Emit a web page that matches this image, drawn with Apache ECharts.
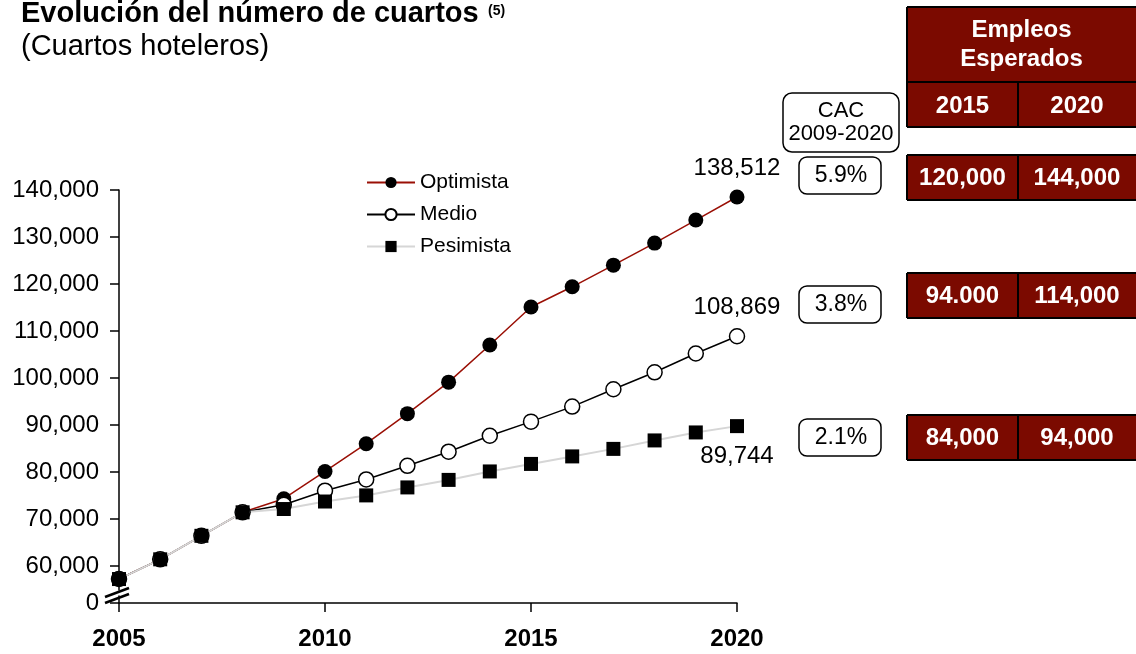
<!DOCTYPE html>
<html>
<head>
<meta charset="utf-8">
<script src="https://cdn.jsdelivr.net/npm/echarts@6/dist/echarts.min.js"></script>
<style>
  html, body { margin: 0; padding: 0; background: #fff; }
  #chart { width: 1136px; height: 654px; }
</style>
</head>
<body>
<div id="chart"></div>
<script>
// datos
const years = [2005, 2006, 2007, 2008, 2009, 2010, 2011, 2012, 2013, 2014, 2015, 2016, 2017, 2018, 2019, 2020];
const optimista = [57200, 61400, 66400, 71400, 74300, 80100, 86000, 92400, 99100, 107000, 115100, 119400, 124000, 128700, 133600, 138512];
const medio = [57200, 61400, 66400, 71400, 73000, 76000, 78400, 81300, 84300, 87700, 90700, 93900, 97600, 101200, 105200, 108869];
const pesimista = [57200, 61400, 66400, 71400, 72100, 73700, 75000, 76700, 78300, 80100, 81700, 83300, 84900, 86700, 88400, 89744];
const yTicks = [0, 60000, 70000, 80000, 90000, 100000, 110000, 120000, 130000, 140000];

const seriesNames = ['Optimista', 'Medio', 'Pesimista'];
const cac = ['5.9%', '3.8%', '2.1%'];
const empleos2015 = ['120,000', '94.000', '84,000'];
const empleos2020 = ['144,000', '114,000', '94,000'];
const tableHeader = 'Empleos\nEsperados';
const tableYears = ['2015', '2020'];
const cacHeader = 'CAC\n2009-2020';
const titulo = 'Evolución del número de cuartos';
const nota = '(5)';
const subtitulo = '(Cuartos hoteleros)';

const FONT = '"Liberation Sans", Arial, sans-serif';
const RED = '#7b0a00';

const chart = echarts.init(document.getElementById('chart'));

function toPairs(vals) {
  return years.map((y, i) => [y, vals[i]]);
}

function lastLabel(position, distance) {
  return {
    show: true,
    position: position,
    distance: distance,
    fontFamily: FONT,
    fontSize: 24,
    color: '#000',
    formatter: (p) => (p.dataIndex === years.length - 1 ? p.value[1].toLocaleString('en-US') : ''),
  };
}

// titulo y tabla lateral (decoracion)
const graphics = [];
graphics.push({
  type: 'text', x: 21, y: 14,
  style: { text: titulo, fill: '#000', font: 'bold 29px ' + FONT, verticalAlign: 'middle' }
});
graphics.push({
  type: 'text', x: 488, y: 11,
  style: { text: nota, fill: '#000', font: 'bold 14px ' + FONT, verticalAlign: 'middle' }
});
graphics.push({
  type: 'text', x: 21, y: 47,
  style: { text: subtitulo, fill: '#000', font: '29px ' + FONT, verticalAlign: 'middle' }
});

const rowTops = [155, 273, 415];
const boxTops = [157, 286, 419];
const tblL = 907, tblR = 1136, tblMid = 1018;

graphics.push({
  type: 'rect', shape: { x: tblL, y: 7, width: tblR - tblL, height: 120 },
  style: { fill: RED }
});
graphics.push({
  type: 'text', x: (tblL + tblR) / 2, y: 45,
  style: { text: tableHeader, fill: '#fff', font: 'bold 24px ' + FONT, align: 'center', verticalAlign: 'middle', lineHeight: 29 }
});
tableYears.forEach((t, i) => {
  graphics.push({
    type: 'text', x: i === 0 ? (tblL + tblMid) / 2 : (tblMid + tblR) / 2, y: 106,
    style: { text: t, fill: '#fff', font: 'bold 24px ' + FONT, align: 'center', verticalAlign: 'middle' }
  });
});
[7, 82, 127].forEach((y) => {
  graphics.push({ type: 'line', shape: { x1: tblL, y1: y, x2: tblR, y2: y }, style: { stroke: '#000', lineWidth: 2 } });
});
graphics.push({ type: 'line', shape: { x1: tblL, y1: 7, x2: tblL, y2: 127 }, style: { stroke: '#000', lineWidth: 2 } });
graphics.push({ type: 'line', shape: { x1: tblMid, y1: 82, x2: tblMid, y2: 127 }, style: { stroke: '#000', lineWidth: 2 } });

// caja CAC
graphics.push({
  type: 'rect', shape: { x: 783, y: 93, width: 116, height: 59, r: 9 },
  style: { fill: '#fff', stroke: '#000', lineWidth: 1.5 }
});
graphics.push({
  type: 'text', x: 841, y: 122,
  style: { text: cacHeader, fill: '#000', font: '22px ' + FONT, align: 'center', verticalAlign: 'middle', lineHeight: 23 }
});

rowTops.forEach((top, i) => {
  graphics.push({
    type: 'rect', shape: { x: tblL, y: top, width: tblR - tblL, height: 45 },
    style: { fill: RED }
  });
  [top, top + 45].forEach((y) => {
    graphics.push({ type: 'line', shape: { x1: tblL, y1: y, x2: tblR, y2: y }, style: { stroke: '#000', lineWidth: 2 } });
  });
  graphics.push({ type: 'line', shape: { x1: tblL, y1: top, x2: tblL, y2: top + 45 }, style: { stroke: '#000', lineWidth: 2 } });
  graphics.push({ type: 'line', shape: { x1: tblMid, y1: top, x2: tblMid, y2: top + 45 }, style: { stroke: '#000', lineWidth: 2 } });
  graphics.push({
    type: 'text', x: (tblL + tblMid) / 2, y: top + 23,
    style: { text: empleos2015[i], fill: '#fff', font: 'bold 24px ' + FONT, align: 'center', verticalAlign: 'middle' }
  });
  graphics.push({
    type: 'text', x: (tblMid + tblR) / 2, y: top + 23,
    style: { text: empleos2020[i], fill: '#fff', font: 'bold 24px ' + FONT, align: 'center', verticalAlign: 'middle' }
  });
  graphics.push({
    type: 'rect', shape: { x: 799, y: boxTops[i], width: 82, height: 37, r: 8 },
    style: { fill: '#fff', stroke: '#000', lineWidth: 1.5 }
  });
  graphics.push({
    type: 'text', x: 841, y: boxTops[i] + 19,
    style: { text: cac[i], fill: '#000', font: '23px ' + FONT, align: 'center', verticalAlign: 'middle' }
  });
});

const option = {
  backgroundColor: '#fff',
  animation: false,
  legend: {
    data: seriesNames,
    orient: 'vertical',
    left: 361,
    top: 167,
    itemWidth: 48,
    itemHeight: 14,
    itemGap: 11,
    textStyle: { fontFamily: FONT, fontSize: 21, color: '#000' },
  },
  grid: { left: 119, right: 399, top: 190, bottom: 51, outerBoundsMode: 'none' },
  xAxis: {
    type: 'value',
    min: 2005,
    max: 2020,
    interval: 5,
    splitLine: { show: false },
    axisLine: { lineStyle: { color: '#000', width: 1.5 } },
    axisTick: { length: 9, lineStyle: { color: '#000', width: 1.5 } },
    axisLabel: {
      fontFamily: FONT, fontSize: 24, fontWeight: 'bold', color: '#000', margin: 24,
      formatter: (v) => String(v),
    },
  },
  yAxis: {
    type: 'value',
    min: 0,
    max: 140000,
    interval: 10000,
    breaks: [{ start: 1500, end: 55000, gap: 1400 }],
    breakArea: { show: false },
    splitLine: { show: false },
    axisLine: { show: true, lineStyle: { color: '#000', width: 1.5 } },
    axisTick: { show: true, length: 9, customValues: yTicks, lineStyle: { color: '#000', width: 1.5 } },
    axisLabel: {
      fontFamily: FONT, fontSize: 24, color: '#000', margin: 20,
      customValues: yTicks,
      formatter: (v) => Number(v).toLocaleString('en-US'),
    },
  },
  series: [
    {
      name: 'Optimista',
      type: 'line',
      data: toPairs(optimista),
      symbol: 'circle',
      symbolSize: 15,
      itemStyle: { color: '#000' },
      lineStyle: { color: '#9a0f05', width: 1.5 },
      label: lastLabel('top', 9),
    },
    {
      name: 'Medio',
      type: 'line',
      data: toPairs(medio),
      symbol: 'circle',
      symbolSize: 15,
      itemStyle: { color: '#fff', borderColor: '#000', borderWidth: 1.5 },
      lineStyle: { color: '#000', width: 1.5 },
      label: lastLabel('top', 9),
    },
    {
      name: 'Pesimista',
      type: 'line',
      data: toPairs(pesimista),
      symbol: 'rect',
      symbolSize: 14,
      itemStyle: { color: '#000' },
      lineStyle: { color: '#d6d6d6', width: 2 },
      label: lastLabel('bottom', 11),
    },
  ],
  graphic: graphics,
};

chart.setOption(option);

// marca de corte del eje
const p = chart.convertToPixel({ gridIndex: 0 }, [2005, 0]);
chart.setOption({
  graphic: graphics.concat([
    { type: 'line', shape: { x1: p[0] - 14, y1: p[1] - 6, x2: p[0] + 10, y2: p[1] - 15 }, style: { stroke: '#000', lineWidth: 2.5 }, z: 100 },
    { type: 'line', shape: { x1: p[0] - 14, y1: p[1] + 0, x2: p[0] + 10, y2: p[1] - 9 }, style: { stroke: '#000', lineWidth: 2.5 }, z: 100 },
  ]),
});
</script>
</body>
</html>
